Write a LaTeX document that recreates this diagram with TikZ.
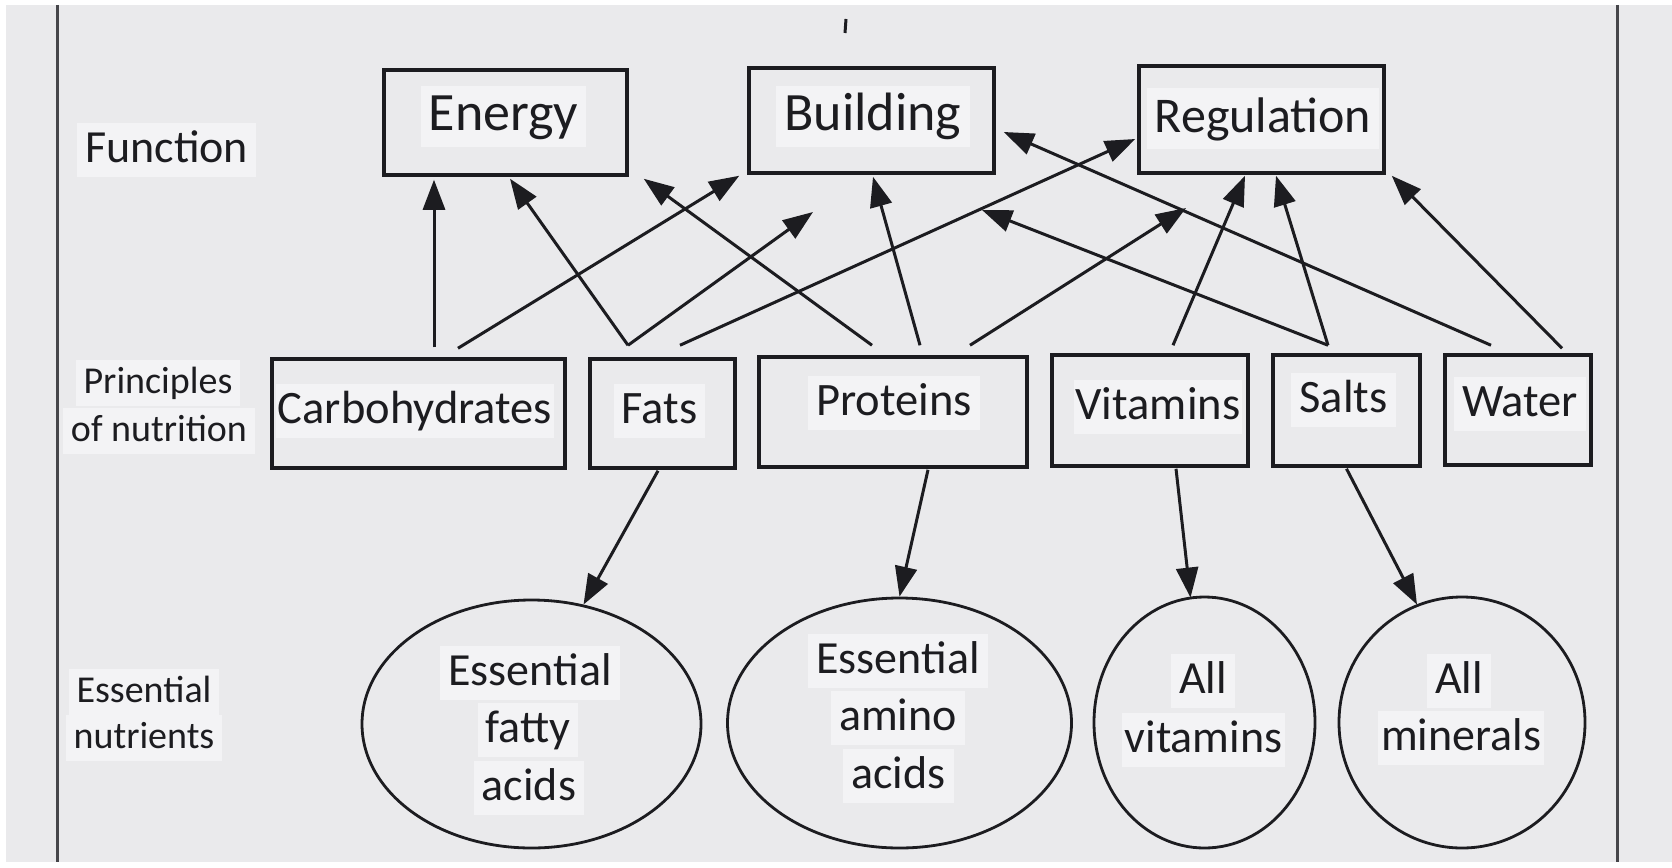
\documentclass[tikz,border=0pt]{standalone}
\usepackage{fontspec}
\setmainfont{Carlito}
\usetikzlibrary{arrows.meta,calc,shapes.geometric}
\definecolor{bgc}{RGB}{234,234,236}
\definecolor{patch}{RGB}{243,243,245}
\definecolor{ink}{RGB}{28,28,32}
\definecolor{framec}{RGB}{70,70,74}
\begin{document}
\begin{tikzpicture}[x=1pt,y=-1pt,
  box/.style={draw=ink, line width=3.5pt, rectangle, inner sep=0pt},
  ell/.style={draw=ink, line width=2.8pt, ellipse, inner sep=0pt},
  txt/.style={anchor=base, inner xsep=8pt, inner ysep=5pt, fill=patch, text=ink},
  big/.style={txt, font=\fontsize{54}{60}\selectfont, text height=39pt, text depth=12pt},
  mid/.style={txt, font=\fontsize{46.5}{56}\selectfont, text height=34pt, text depth=10pt},
  sml/.style={txt, font=\fontsize{38}{46}\selectfont, text height=28pt, text depth=8pt},
  arr/.style={draw=ink, line width=3pt, -{Triangle[length=30pt,width=22pt]}}
]
% page
\fill[white] (0,0) rectangle (1672,867);
\fill[bgc] (6,5) rectangle (1672,862);
\useasboundingbox (0,0) rectangle (1672,867);
\draw[framec, line width=3pt] (57,5) -- (57,862);
\draw[framec, line width=3pt] (1617,5) -- (1617,862);
\draw[ink, line width=3pt] (846,19) -- (845,33);

% left labels
\node[txt, anchor=base west, font=\fontsize{46}{56}\selectfont, text height=34pt, text depth=10pt] (lfunc) at (77,162) {Function};
\node[sml] (lprin1) at (158,393) {Principles};
\node[sml] (lprin2) at (159,441) {of nutrition};
\node[sml] (less1) at (144,702) {Essential};
\node[sml] (less2) at (144,748) {nutrients};

% function boxes
\node[box, minimum width=243pt, minimum height=105pt] (energy) at (505.5,122.5) {};
\node[box, minimum width=245pt, minimum height=105pt] (building) at (871.5,120.5) {};
\node[box, minimum width=245pt, minimum height=107pt] (regulation) at (1261.5,119.5) {};
\node[big] (tenergy) at (503.5,130) {Energy};
\node[big] (tbuilding) at (873,130) {Building};
\node[big, font=\fontsize{50}{60}\selectfont] (tregulation) at (1263,132) {Regulation};

% principle boxes
\node[box, minimum width=293pt, minimum height=109pt] (carb) at (418.5,413.5) {};
\node[box, minimum width=145pt, minimum height=109pt] (fats) at (662.5,413.5) {};
\node[box, minimum width=268pt, minimum height=110pt] (proteins) at (893,412) {};
\node[box, minimum width=196pt, minimum height=111pt] (vitamins) at (1150,410.5) {};
\node[box, minimum width=147pt, minimum height=111pt] (salts) at (1346.5,410.5) {};
\node[box, minimum width=146pt, minimum height=110pt] (water) at (1518,410) {};
\node[mid, inner xsep=2pt] (tcarb) at (415,423) {Carbohydrates};
\node[mid] (tfats) at (659.5,423) {Fats};
\node[mid] (tproteins) at (894,415) {Proteins};
\node[mid, inner xsep=2pt] (tvitamins) at (1158,419) {Vitamins};
\node[mid] (tsalts) at (1343.5,412) {Salts};
\node[mid] (twater) at (1520,416) {Water};

% essential nutrients
\node[ell, minimum width=339pt, minimum height=248pt] (e1) at (531.5,724) {};
\node[ell, minimum width=344pt, minimum height=250pt] (e2) at (899.5,723) {};
\node[ell, minimum width=221pt, minimum height=251pt] (c3) at (1204.5,722.5) {};
\node[ell, minimum width=246pt, minimum height=251pt] (c4) at (1462,722.5) {};
\node[mid, font=\fontsize{46}{56}\selectfont] (te1a) at (530,685) {Essential};
\node[mid, font=\fontsize{46}{56}\selectfont] (te1b) at (528,742) {fatty};
\node[mid, font=\fontsize{46}{56}\selectfont] (te1c) at (529,800) {acids};
\node[mid, font=\fontsize{46}{56}\selectfont] (te2a) at (898,673) {Essential};
\node[mid, font=\fontsize{46}{56}\selectfont] (te2b) at (898,730) {amino};
\node[mid, font=\fontsize{46}{56}\selectfont] (te2c) at (898.5,788) {acids};
\node[mid, font=\fontsize{46}{56}\selectfont] (tc3a) at (1203,693) {All};
\node[mid, font=\fontsize{46}{56}\selectfont, inner xsep=3pt] (tc3b) at (1203.5,752) {vitamins};
\node[mid, font=\fontsize{46}{56}\selectfont] (tc4a) at (1459,693) {All};
\node[mid, font=\fontsize{46}{56}\selectfont, inner xsep=3pt] (tc4b) at (1461,750) {minerals};

% free arrow ends
\coordinate (f1) at (813,212);
\coordinate (f2) at (1186,208);
\coordinate (f3) at (982,210);

% upward arrows
\draw[arr] ($(carb.north)+(15.5,-10)$) -- ($(energy.south)+(-71.5,3)$);
\draw[arr] ($(carb.north)+(39.5,-9)$) -- ($(building.south west)+(-8,1)$);
\draw[arr] ($(fats.north)+(-34.5,-12)$) -- ($(energy.south)+(4.5,2)$);
\draw[arr] ($(fats.north)+(-34.5,-12)$) -- (f1);
\draw[arr] ($(fats.north)+(17.5,-12)$) -- ($(regulation.west)+(-2,19.5)$);
\draw[arr] ($(proteins.north)+(-21,-10)$) -- ($(energy.south east)+(15,2)$);
\draw[arr] ($(proteins.north)+(27,-10)$) -- ($(building.south)+(1.5,2)$);
\draw[arr] ($(proteins.north)+(77,-10)$) -- (f2);
\draw[arr] ($(vitamins.north)+(23,-8)$) -- ($(regulation.south)+(-16.5,1)$);
\draw[arr] ($(salts.north)+(-18.5,-8)$) -- ($(regulation.south)+(14.5,1)$);
\draw[arr] ($(salts.north)+(-18.5,-8)$) -- (f3);
\draw[arr] ($(water.north)+(-27,-8)$) -- ($(building.east)+(8,11.5)$);
\draw[arr] ($(water.north)+(44,-5)$) -- ($(regulation.south east)+(6,1)$);

% downward arrows
\draw[arr] ($(fats.south)+(-4.5,1)$) -- ($(e1.north)+(52,6)$);
\draw[arr] ($(proteins.south)+(35,1)$) -- (e2.north);
\draw[arr] ($(vitamins.south)+(26,1)$) -- ($(c3.north)+(-14,2)$);
\draw[arr] ($(salts.south)+(0,1)$) -- ($(c4.north)+(-45,9)$);
\end{tikzpicture}
\end{document}
